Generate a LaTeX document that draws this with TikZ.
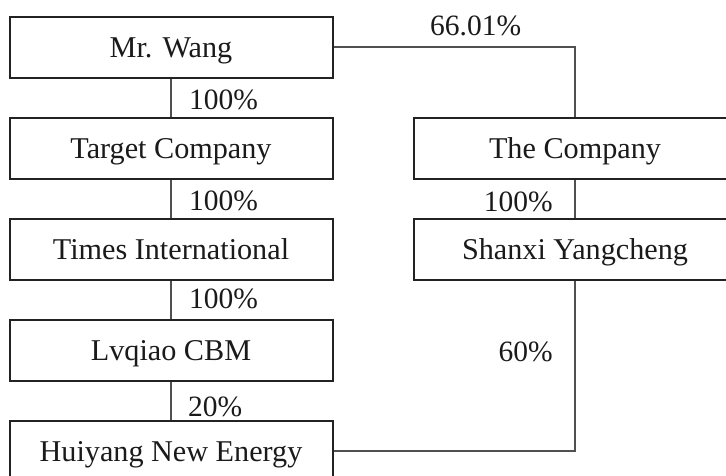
\documentclass[tikz,border=0pt]{standalone}
\usepackage{fontspec}
\setmainfont{Liberation Serif}
\definecolor{boxline}{HTML}{222222}
\definecolor{conline}{HTML}{505050}
\definecolor{txt}{HTML}{1A1A1A}
\begin{document}
\begin{tikzpicture}[x=1pt,y=-1pt,
  orgbox/.style={draw=boxline, line width=2pt, minimum width=323pt, minimum height=61pt,
    inner sep=0pt, text height=27pt, text depth=7pt, font=\fontsize{30.2}{32}\selectfont, text=txt},
  conn/.style={draw=conline, line width=1.1pt},
  pct/.style={inner sep=0pt, font=\fontsize{29.5}{32}\selectfont, text=txt}]
\useasboundingbox (0,0) rectangle (726,475);
\node[orgbox] (wang) at (171,47) {Mr. Wang};
\node[orgbox] (target) at (171,148) {Target Company};
\node[orgbox] (times) at (171,249.5) {Times International};
\node[orgbox] (lvqiao) at (171,350) {Lvqiao CBM};
\node[orgbox] (huiyang) at (171,451) {Huiyang New Energy};
\node[orgbox] (company) at (575,148.5) {The Company};
\node[orgbox] (shanxi) at (575,249) {Shanxi Yangcheng};
\draw[conn] (wang.south) -- (target.north);
\draw[conn] (target.south) -- (times.north);
\draw[conn] (times.south) -- (lvqiao.north);
\draw[conn] (lvqiao.south) -- (huiyang.north);
\draw[conn] (wang.east) -| (company.north);
\draw[conn] (company.south) -- (shanxi.north);
\draw[conn] (shanxi.south) |- (huiyang.east);
\node[pct, anchor=base west] (p1) at (189,109) {100\%};
\node[pct, anchor=base west] (p2) at (189,210) {100\%};
\node[pct, anchor=base west] (p3) at (189,308) {100\%};
\node[pct, anchor=base west] (p4) at (188,416) {20\%};
\node[pct, anchor=base west] (p5) at (430,35) {66.01\%};
\node[pct, anchor=base east] (p6) at (553,211) {100\%};
\node[pct, anchor=base east] (p7) at (553,361) {60\%};
\end{tikzpicture}
\end{document}
